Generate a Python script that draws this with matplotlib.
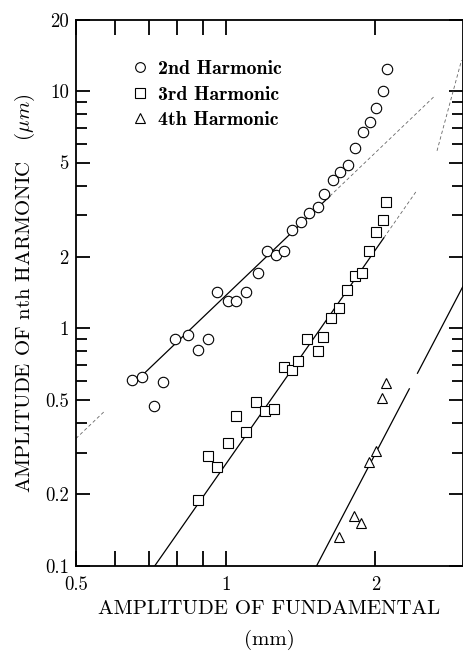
import numpy as np
import matplotlib
matplotlib.use("Agg")
import matplotlib.pyplot as plt
from matplotlib.lines import Line2D
from matplotlib.ticker import FixedLocator, FuncFormatter, NullFormatter

plt.rcParams["mathtext.fontset"] = "cm"
plt.rcParams["axes.formatter.use_mathtext"] = True

h2_x = [0.647, 0.678, 0.717, 0.747, 0.79, 0.839, 0.879, 0.92, 0.96, 1.01,
        1.05, 1.10, 1.16, 1.21, 1.26, 1.31, 1.36, 1.42, 1.47, 1.53,
        1.58, 1.64, 1.70, 1.76, 1.82, 1.89, 1.95, 2.01, 2.07, 2.11]
h2_y = [0.604, 0.622, 0.47, 0.598, 0.90, 0.94, 0.81, 0.90, 1.42, 1.31,
        1.31, 1.42, 1.72, 2.13, 2.03, 2.11, 2.61, 2.82, 3.05, 3.26,
        3.70, 4.2, 4.58, 4.9, 5.78, 6.75, 7.44, 8.5, 10.0, 12.4]

h3_x = [0.879, 0.92, 0.96, 1.01, 1.05, 1.10, 1.15, 1.20, 1.25, 1.31,
        1.36, 1.40, 1.46, 1.53, 1.57, 1.63, 1.69, 1.75, 1.82, 1.88,
        1.94, 2.01, 2.07, 2.10]
h3_y = [0.19, 0.29, 0.26, 0.33, 0.43, 0.365, 0.49, 0.45, 0.46, 0.69,
        0.67, 0.73, 0.90, 0.80, 0.925, 1.11, 1.22, 1.45, 1.67, 1.72,
        2.13, 2.55, 2.85, 3.42]

h4_x = [1.69, 1.81, 1.87, 1.94, 2.01, 2.06, 2.10]
h4_y = [0.133, 0.163, 0.152, 0.275, 0.306, 0.51, 0.59]

# fitted lines (segment end points), solid parts and faint parts
fit_solid = [
    ([0.68, 1.62], [0.636, 3.61]),
    ([0.72, 2.08], [0.10, 2.41]),
    ([1.523, 2.34], [0.10, 0.557]),
    ([2.43, 3.0], [0.648, 1.506]),
]
fit_faint = [
    ([0.5, 0.57], [0.344, 0.447]),
    ([1.62, 2.63], [3.61, 9.52]),
    ([2.08, 2.42], [2.41, 3.80]),
    ([2.66, 2.98], [5.6, 13.5]),
]

xmajor = [0.5, 1, 2]
xminor = [0.6, 0.7, 0.8, 0.9]
ymajor = [0.1, 0.2, 0.5, 1, 2, 5, 10, 20]
yminor = [0.3, 0.4, 0.6, 0.7, 0.8, 0.9, 3, 4, 6, 7, 8, 9]

fig = plt.figure(figsize=(4.63, 6.52), dpi=100)
ax = fig.add_axes([0.164, 0.132, 0.836, 0.838])
ax.set_xscale("log")
ax.set_yscale("log")
ax.set_xlim(0.5, 3.0)
ax.set_ylim(0.1, 20)

for xs, ys in fit_solid:
    ax.plot(xs, ys, color="black", lw=0.9)
for xs, ys in fit_faint:
    ax.plot(xs, ys, color="0.4", lw=0.6, ls=(0, (4, 3)))

mk = dict(ls="none", mfc="white", mec="black", mew=0.8)
ax.plot(h2_x, h2_y, marker="o", ms=7.5, **mk)
ax.plot(h3_x, h3_y, marker="s", ms=7.2, **mk)
ax.plot(h4_x, h4_y, marker="^", ms=7.5, **mk)

handles = [
    Line2D([], [], marker="o", ms=7, **mk),
    Line2D([], [], marker="s", ms=6.5, **mk),
    Line2D([], [], marker="^", ms=7, **mk),
]
labels = ["2nd Harmonic", "3rd Harmonic", "4th Harmonic"]
ax.legend(handles, labels, loc="upper left", bbox_to_anchor=(0.1025, 0.958),
          frameon=False, handlelength=0.7, handletextpad=0.55,
          labelspacing=0.36, prop={"family": "cmb10", "size": 14.3})

fmt = FuncFormatter(lambda v, p: "%g" % v)
ax.xaxis.set_major_locator(FixedLocator(xmajor))
ax.xaxis.set_minor_locator(FixedLocator(xminor))
ax.yaxis.set_major_locator(FixedLocator(ymajor))
ax.yaxis.set_minor_locator(FixedLocator(yminor))
ax.xaxis.set_major_formatter(fmt)
ax.yaxis.set_major_formatter(fmt)
ax.xaxis.set_minor_formatter(NullFormatter())
ax.yaxis.set_minor_formatter(NullFormatter())

ax.tick_params(which="both", direction="in", top=True, right=True, width=1.3)
ax.tick_params(axis="x", which="both", length=11, pad=7)
ax.tick_params(axis="y", which="major", length=10, pad=5)
ax.tick_params(axis="y", which="minor", length=8)
for lab in ax.get_xticklabels() + ax.get_yticklabels():
    lab.set_family("cmr10")
    lab.set_fontsize(13.5)
for sp in ax.spines.values():
    sp.set_linewidth(1.3)

ax.set_xlabel("AMPLITUDE OF FUNDAMENTAL\n(mm)", family="cmr10", fontsize=15,
              linespacing=1.75, labelpad=5)
ax.set_ylabel(r"AMPLITUDE OF nth HARMONIC   $(\mu m)$", family="cmr10",
              fontsize=15, labelpad=6)

fig.savefig("out.png", dpi=100)
